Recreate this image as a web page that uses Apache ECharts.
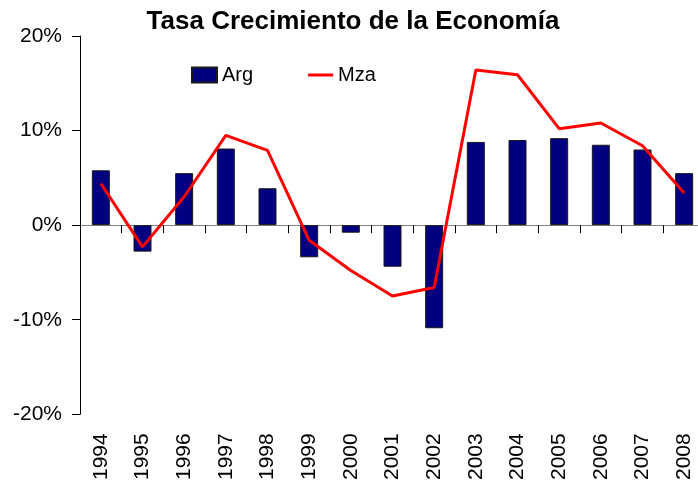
<!DOCTYPE html>
<html>
<head>
<meta charset="utf-8">
<script src="https://cdn.jsdelivr.net/npm/echarts@6/dist/echarts.min.js"></script>
<style>
html,body{margin:0;padding:0;background:#fff;overflow:hidden;}
#chart{width:706px;height:483px;}
</style>
</head>
<body>
<div id="chart"></div>
<script>
var categories = ['1994','1995','1996','1997','1998','1999','2000','2001','2002','2003','2004','2005','2006','2007','2008'];
var argValues = [5.8, -2.8, 5.5, 8.1, 3.9, -3.4, -0.8, -4.4, -10.9, 8.8, 9.0, 9.2, 8.5, 8.0, 5.5];
var mzaValues = [4.4, -2.3, 3.0, 9.5, 7.9, -1.6, -4.8, -7.5, -6.6, 16.4, 15.9, 10.2, 10.8, 8.4, 3.4];
var yTicks = [-20, -10, 0, 10, 20];

var FONT = '"Liberation Sans", Arial, sans-serif';
var chart = echarts.init(document.getElementById('chart'), null, {renderer:'canvas'});
chart.setOption({
  animation: false,
  backgroundColor: '#ffffff',
  title: {
    text: 'Tasa Crecimiento de la Economía',
    left: 'center',
    top: 9,
    padding: 0,
    textStyle: {fontFamily: FONT, fontSize: 26, fontWeight: 'bold', color: '#000'}
  },
  legend: {
    left: 191,
    top: 65,
    padding: 0,
    itemWidth: 25,
    itemHeight: 15,
    itemGap: 55,
    textStyle: {fontFamily: FONT, fontSize: 20, color: '#000'},
    data: [
      {name: 'Arg', icon: 'rect'},
      {name: 'Mza', icon: 'path://M0,0 M25,15 M0,6 L25,6 L25,9 L0,9 Z'}
    ]
  },
  grid: {left: 80, top: 36, width: 625, height: 379, containLabel: false},
  xAxis: [
    {
      type: 'category',
      data: categories,
      position: 'bottom',
      axisLine: {show: false, onZero: false},
      axisTick: {show: false},
      axisLabel: {
        rotate: 90,
        interval: 0,
        margin: 19,
        fontFamily: FONT,
        fontSize: 21,
        color: '#000'
      },
      splitLine: {show: false}
    },
    {
      type: 'category',
      data: categories,
      position: 'bottom',
      axisLine: {show: true, onZero: true, lineStyle: {color: '#808080', width: 1}},
      axisTick: {show: true, inside: false, length: 8, interval: 0, lineStyle: {color: '#000', width: 1}},
      axisLabel: {show: false},
      splitLine: {show: false}
    }
  ],
  yAxis: {
    type: 'value',
    min: -20,
    max: 20,
    interval: 10,
    axisLine: {show: true, onZero: false, lineStyle: {color: '#000', width: 1}},
    axisTick: {show: true, inside: false, length: 8, lineStyle: {color: '#000'}},
    axisLabel: {
      margin: 18,
      fontFamily: FONT,
      fontSize: 21,
      color: '#000',
      formatter: function (v) { return yTicks.indexOf(v) >= 0 ? v + '%' : ''; }
    },
    splitLine: {show: false}
  },
  series: [
    {
      name: 'Arg',
      type: 'bar',
      xAxisIndex: 0,
      data: argValues,
      barWidth: 18,
      itemStyle: {color: '#000080', borderColor: '#1a1a1a', borderWidth: 1},
      z: 2
    },
    {
      name: 'Mza',
      type: 'line',
      xAxisIndex: 0,
      data: mzaValues,
      symbol: 'none',
      showSymbol: false,
      lineStyle: {color: '#ff0000', width: 3},
      itemStyle: {color: '#ff0000'},
      z: 3
    }
  ]
});
</script>
</body>
</html>
